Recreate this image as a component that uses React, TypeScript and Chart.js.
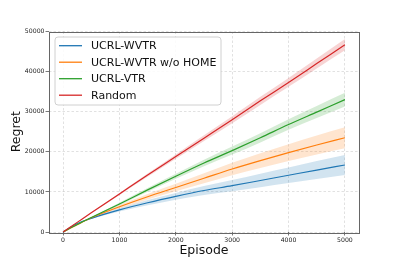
import React, { useEffect, useRef } from "react";
import { Chart, registerables } from "chart.js";

Chart.register(...registerables);

const episodes = [0, 250, 500, 1000, 1500, 2000, 2500, 3000, 3500, 4000, 4500, 5000];

const seriesLabels = ["UCRL-WVTR", "UCRL-WVTR w/o HOME", "UCRL-VTR", "Random"];
const seriesColors = ["#1f77b4", "#ff7f0e", "#2ca02c", "#d62728"];
const bandColors = [
  "rgba(31,119,180,0.2)",
  "rgba(255,127,14,0.2)",
  "rgba(44,160,44,0.2)",
  "rgba(214,39,40,0.2)",
];

const wvtrMean = [0, 2100, 3400, 5500, 7300, 8900, 10350, 11550, 12850, 14150, 15450, 16700];
const wvtrHigh = [0, 2180, 3550, 5900, 7950, 9750, 11450, 12950, 14550, 16100, 17700, 19200];
const wvtrLow = [0, 2020, 3250, 5100, 6650, 8050, 9250, 10150, 11150, 12200, 13200, 14200];

const noHomeMean = [0, 1800, 3550, 6300, 8800, 11100, 13400, 15700, 17800, 19800, 21700, 23500];
const noHomeHigh = [0, 1880, 3700, 6750, 9500, 12050, 14650, 17250, 19650, 21900, 24050, 26100];
const noHomeLow = [0, 1720, 3400, 5850, 8100, 10150, 12150, 14150, 15950, 17700, 19350, 20900];

const vtrMean = [0, 1850, 3600, 7000, 10500, 13900, 17200, 20300, 23500, 26800, 29900, 33000];
const vtrHigh = [0, 1910, 3720, 7300, 10950, 14500, 18000, 21300, 24650, 28100, 31400, 34700];
const vtrLow = [0, 1790, 3480, 6700, 10050, 13300, 16400, 19300, 22350, 25500, 28400, 31300];

const randomMean = [0, 2400, 4800, 9500, 14200, 18800, 23400, 28000, 32700, 37300, 42000, 46700];
const randomHigh = [0, 2460, 4920, 9750, 14600, 19350, 24100, 28850, 33700, 38400, 43250, 48100];
const randomLow = [0, 2340, 4680, 9250, 13800, 18250, 22700, 27150, 31700, 36200, 40750, 45300];

const xTicks = [0, 1000, 2000, 3000, 4000, 5000];
const yTicks = [0, 10000, 20000, 30000, 40000, 50000];

const FONT = "'DejaVu Sans', sans-serif";

const toPts = (ys: number[]) => ys.map((y, i) => ({ x: episodes[i], y }));

export default function App() {
  const ref = useRef<HTMLCanvasElement | null>(null);

  useEffect(() => {
    if (!ref.current) return;
    const means = [wvtrMean, noHomeMean, vtrMean, randomMean];
    const highs = [wvtrHigh, noHomeHigh, vtrHigh, randomHigh];
    const lows = [wvtrLow, noHomeLow, vtrLow, randomLow];

    const datasets: any[] = [];
    means.forEach((m, s) => {
      const base = s * 3;
      datasets.push({
        label: seriesLabels[s] + " low",
        data: toPts(lows[s]),
        borderWidth: 0,
        pointRadius: 0,
        fill: false,
        order: 10 - s,
        cubicInterpolationMode: "monotone",
      });
      datasets.push({
        label: seriesLabels[s] + " high",
        data: toPts(highs[s]),
        borderWidth: 0,
        pointRadius: 0,
        backgroundColor: bandColors[s],
        fill: base,
        order: 10 - s,
        cubicInterpolationMode: "monotone",
      });
      datasets.push({
        label: seriesLabels[s],
        data: toPts(m),
        borderColor: seriesColors[s],
        borderWidth: 1.2,
        pointRadius: 0,
        fill: false,
        order: 5 - s,
        cubicInterpolationMode: "monotone",
      });
    });

    const framePlugin = {
      id: "frameAndLegend",
      afterDraw(chart: any) {
        const { ctx, chartArea } = chart;
        ctx.save();
        ctx.strokeStyle = "#666";
        ctx.lineWidth = 1;
        ctx.strokeRect(
          Math.round(chartArea.left) + 0.5,
          Math.round(chartArea.top) + 0.5,
          Math.round(chartArea.right - chartArea.left),
          Math.round(chartArea.bottom - chartArea.top)
        );
        // legend
        const lx = 55, ly = 37, lw = 166, lh = 68, r = 3;
        ctx.beginPath();
        ctx.moveTo(lx + r, ly);
        ctx.arcTo(lx + lw, ly, lx + lw, ly + lh, r);
        ctx.arcTo(lx + lw, ly + lh, lx, ly + lh, r);
        ctx.arcTo(lx, ly + lh, lx, ly, r);
        ctx.arcTo(lx, ly, lx + lw, ly, r);
        ctx.closePath();
        ctx.fillStyle = "rgba(255,255,255,0.85)";
        ctx.fill();
        ctx.strokeStyle = "#d0d0d0";
        ctx.stroke();
        ctx.font = "11px " + FONT;
        ctx.textBaseline = "middle";
        ctx.textAlign = "left";
        seriesLabels.forEach((lab, i) => {
          const y = 45.7 + i * 16.5;
          ctx.strokeStyle = seriesColors[i];
          ctx.lineWidth = 1.3;
          ctx.beginPath();
          ctx.moveTo(59, y);
          ctx.lineTo(82, y);
          ctx.stroke();
          ctx.fillStyle = "#111";
          ctx.fillText(lab, 91, y + 0.5);
        });
        ctx.restore();
      },
    };

    const chart = new Chart(ref.current, {
      type: "line",
      data: { datasets },
      plugins: [framePlugin],
      options: {
        animation: false,
        responsive: false,
        devicePixelRatio: 1,
        layout: { padding: { left: 0, right: 40, top: 31.5, bottom: 0 } },
        plugins: {
          legend: { display: false },
          tooltip: { enabled: false },
        },
        scales: {
          x: {
            type: "linear",
            min: -250,
            max: 5250,
            afterBuildTicks: (scale: any) => {
              scale.ticks = xTicks.map((v) => ({ value: v }));
            },
            afterFit: (scale: any) => {
              scale.height = 34;
            },
            ticks: {
              font: { family: FONT, size: 6.2 },
              color: "#222",
              padding: 1,
              maxRotation: 0,
              callback: (v: any) => String(v),
            },
            grid: {
              color: "rgba(0,0,0,0.15)",
              lineWidth: 0.8,
              tickLength: 3.5,
              tickColor: "#555",
              tickWidth: 0.8,
            },
            border: { display: false, dash: [2.5, 2] },
            title: {
              display: true,
              text: "Episode",
              font: { family: FONT, size: 12.5 },
              color: "#111",
              padding: { top: 0, bottom: 7.5 },
            },
          },
          y: {
            type: "linear",
            min: 0,
            max: 50000,
            afterBuildTicks: (scale: any) => {
              scale.ticks = yTicks.map((v) => ({ value: v }));
            },
            afterFit: (scale: any) => {
              scale.width = 49;
            },
            ticks: {
              font: { family: FONT, size: 6.2 },
              color: "#222",
              padding: 1,
              callback: (v: any) => String(v),
            },
            grid: {
              color: "rgba(0,0,0,0.15)",
              lineWidth: 0.8,
              tickLength: 3.5,
              tickColor: "#555",
              tickWidth: 0.8,
            },
            border: { display: false, dash: [2.5, 2] },
            title: {
              display: true,
              text: "Regret",
              font: { family: FONT, size: 12.5 },
              color: "#111",
              padding: { top: 9.5, bottom: 0 },
            },
          },
        },
      } as any,
    });
    return () => chart.destroy();
  }, []);

  return (
    <div style={{ position: "fixed", left: 0, top: 0, width: 399, height: 266, background: "#fff" }}>
      <canvas ref={ref} width={399} height={266} />
    </div>
  );
}
